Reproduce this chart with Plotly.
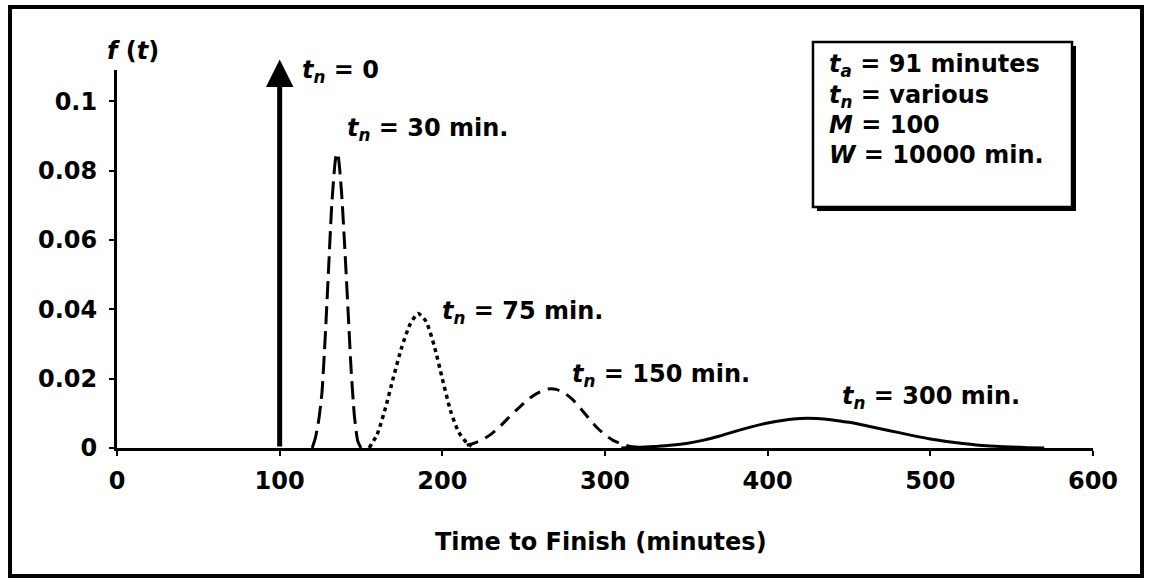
import plotly.graph_objects as go

FONT = "DejaVu Sans"

# ---- data ----
# t_n = 0 : all probability at t = 100 (drawn as an arrow)
t0 = [100, 100]
f0 = [0.0, 0.1120]

# t_n = 30 min.
t30 = [120, 122, 124, 126, 128, 130, 132, 134, 135, 136, 138, 140, 142, 144, 146, 148, 150]
f30 = [0.000, 0.003, 0.008, 0.016, 0.032, 0.051, 0.070, 0.082, 0.085, 0.084, 0.074,
       0.058, 0.040, 0.022, 0.009, 0.002, 0.000]

# t_n = 75 min.
t75 = [155, 160, 165, 170, 175, 180, 185, 190, 195, 200, 205, 210, 215, 218]
f75 = [0.0000, 0.0040, 0.0115, 0.0205, 0.0290, 0.0355, 0.0388, 0.0365, 0.0295,
       0.0200, 0.0108, 0.0046, 0.0015, 0.0005]

# t_n = 150 min.
t150 = [215, 220, 225, 230, 235, 240, 245, 250, 255, 260, 265, 270, 275, 280, 285,
        290, 295, 300, 305, 310, 315, 320]
f150 = [0.0008, 0.0015, 0.0025, 0.0040, 0.0060, 0.0084, 0.0107, 0.0129, 0.0148,
        0.0162, 0.0170, 0.0169, 0.0159, 0.0140, 0.0114, 0.0086, 0.0059, 0.0038,
        0.0022, 0.0012, 0.0005, 0.0002]

# t_n = 300 min.
t300 = [310, 320, 330, 340, 350, 360, 370, 380, 390, 400, 410, 420, 430, 440, 450,
        460, 470, 480, 490, 500, 510, 520, 530, 540, 550, 560, 570]
f300 = [0.0000, 0.0002, 0.0004, 0.0008, 0.0013, 0.0022, 0.0034, 0.0048, 0.0061,
        0.0072, 0.0080, 0.0085, 0.0085, 0.0081, 0.0074, 0.0065, 0.0055, 0.0045,
        0.0035, 0.0026, 0.0019, 0.0013, 0.0008, 0.0005, 0.0003, 0.0001, 0.0000]

x_ticks = [0, 100, 200, 300, 400, 500, 600]
x_ticktext = ["0", "100", "200", "300", "400", "500", "600"]
y_ticks = [0, 0.02, 0.04, 0.06, 0.08, 0.1]
y_ticktext = ["0", "0.02", "0.04", "0.06", "0.08", "0.1"]

curve_labels = [
    ("<i>t</i><sub><i>n</i></sub> = 0", 112.5, 0.1085),
    ("<i>t</i><sub><i>n</i></sub> = 30 min.", 140.2, 0.0918),
    ("<i>t</i><sub><i>n</i></sub> = 75 min.", 198.6, 0.0392),
    ("<i>t</i><sub><i>n</i></sub> = 150 min.", 278.5, 0.0208),
    ("<i>t</i><sub><i>n</i></sub> = 300 min.", 444.5, 0.0147),
]

param_lines = [
    "<i>t</i><sub><i>a</i></sub> = 91 minutes",
    "<i>t</i><sub><i>n</i></sub> = various",
    "<i>M</i> = 100",
    "<i>W</i> = 10000 min.",
]

BFONT = dict(family=FONT, size=24, color="black", weight="bold")

fig = go.Figure()

fig.add_trace(go.Scatter(x=t30, y=f30, mode="lines",
                         line=dict(color="black", width=3, dash="18px,7px", shape="spline", smoothing=0.6),
                         name="t_n = 30 min."))
fig.add_trace(go.Scatter(x=t75, y=f75, mode="lines",
                         line=dict(color="black", width=3.5, dash="4px,4px", shape="spline", smoothing=0.6),
                         name="t_n = 75 min."))
fig.add_trace(go.Scatter(x=t150, y=f150, mode="lines",
                         line=dict(color="black", width=3, dash="12px,8px", shape="spline", smoothing=0.6),
                         name="t_n = 150 min."))
fig.add_trace(go.Scatter(x=t300, y=f300, mode="lines",
                         line=dict(color="black", width=3, shape="spline", smoothing=0.6),
                         name="t_n = 300 min."))

# t_n = 0 : impulse drawn as an arrow from (t0[0], f0[0]) up to (t0[1], f0[1])
fig.add_annotation(x=t0[1], y=f0[1], ax=t0[0], ay=f0[0], xref="x", yref="y",
                   axref="x", ayref="y", showarrow=True, text="",
                   arrowhead=2, arrowwidth=5, arrowsize=1.1, arrowcolor="black",
                   standoff=0, startstandoff=0)

axis_common = dict(showgrid=False, zeroline=False, showline=True, linewidth=3,
                   linecolor="black", ticks="outside", ticklen=5, tickwidth=2,
                   tickcolor="black", tickfont=dict(family=FONT, size=24, color="black", weight="bold"))

fig.update_layout(
    width=1150, height=585,
    margin=dict(l=117, r=57, t=70, b=137),
    paper_bgcolor="white", plot_bgcolor="white",
    showlegend=False,
    font=dict(family=FONT, size=24, color="black"),
    xaxis=dict(range=[0, 600], tickvals=x_ticks, ticktext=x_ticktext,
               ticklabelstandoff=4, **axis_common),
    yaxis=dict(range=[0, 0.109], tickvals=y_ticks, ticktext=y_ticktext,
               ticklabelstandoff=7, **axis_common),
    xaxis2=dict(overlaying="x", anchor="y", side="bottom", range=[0, 600],
                tickvals=x_ticks, ticks="inside", ticklen=5, tickwidth=2,
                tickcolor="black", showticklabels=False, showline=False,
                showgrid=False, zeroline=False),
    yaxis2=dict(overlaying="y", anchor="x", side="left", range=[0, 0.109],
                tickvals=y_ticks, ticks="inside", ticklen=5, tickwidth=2,
                tickcolor="black", showticklabels=False, showline=False,
                showgrid=False, zeroline=False),
)

# outer frame
fig.add_shape(type="rect", xref="paper", yref="paper",
              x0=-0.1096, x1=1.0502, y0=-0.3386, y1=1.1667,
              line=dict(color="black", width=4), fillcolor="rgba(0,0,0,0)")

# parameter box with shadow
fig.add_shape(type="rect", xref="paper", yref="paper",
              x0=0.7172, x1=0.9826, y0=0.6270, y1=1.0635,
              line=dict(color="black", width=0), fillcolor="black")
fig.add_shape(type="rect", xref="paper", yref="paper",
              x0=0.7131, x1=0.9785, y0=0.6376, y1=1.0741,
              line=dict(color="black", width=2.5), fillcolor="white")

for txt, x, y in curve_labels:
    fig.add_annotation(text=txt, x=x, y=y, xref="x", yref="y", showarrow=False,
                       xanchor="left", yanchor="middle", font=BFONT)

for txt, yp in zip(param_lines, [1.0106, 0.9312, 0.8545, 0.7751]):
    fig.add_annotation(text=txt, x=0.7275, y=yp, xref="paper", yref="paper",
                       showarrow=False, xanchor="left", yanchor="middle", font=BFONT)

# axis titles
fig.add_annotation(text="<i>f</i> (<i>t</i>)", x=0.0164, y=1.050, xref="paper", yref="paper",
                   showarrow=False, xanchor="center", yanchor="middle", font=BFONT)
fig.add_annotation(text="Time to Finish (minutes)", x=0.496, y=-0.2487, xref="paper", yref="paper",
                   showarrow=False, xanchor="center", yanchor="middle",
                   font=dict(family=FONT, size=24, color="black", weight="bold"))

fig.write_html("out.html")
